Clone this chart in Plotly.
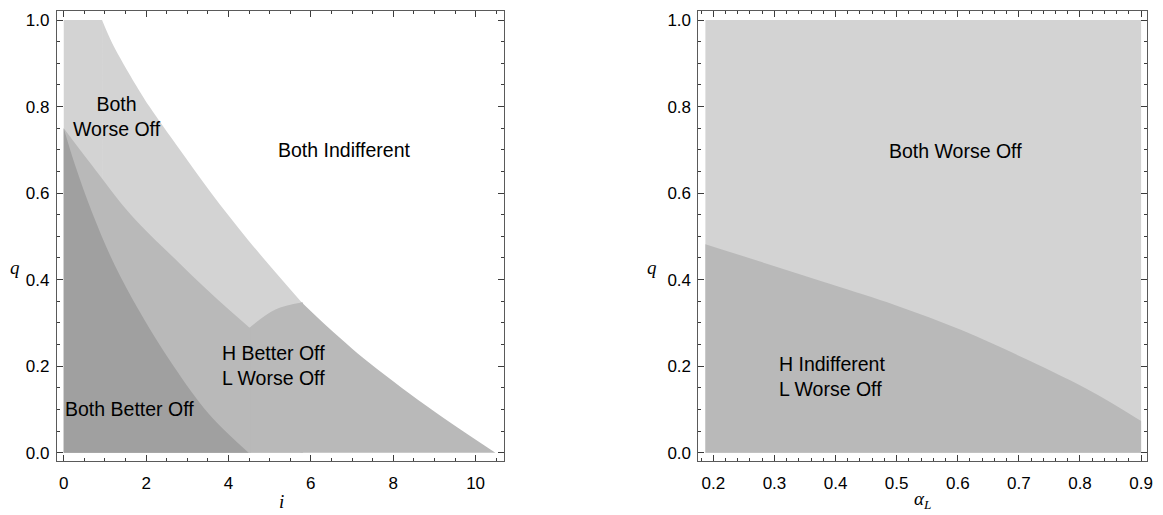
import plotly.graph_objects as go

# ---------------- data ----------------
# Left panel (x = i, y = q)
outer_i = [0.93, 1.18, 1.75, 2.08, 2.82, 3.58, 4.49, 5.78]
outer_q = [1.0, 0.946, 0.85, 0.8, 0.7, 0.6, 0.49, 0.347]
inner_i = [0.0, 0.67, 1.63, 2.84, 3.69, 4.51]
inner_q = [0.75, 0.666, 0.55, 0.435, 0.358, 0.289]
notch_i = [4.51, 5.14, 5.78]
notch_q = [0.289, 0.331, 0.347]
tail_i = [5.78, 6.43, 6.99, 7.6, 8.4, 9.25, 10.48]
tail_q = [0.347, 0.2885, 0.2415, 0.194, 0.1364, 0.0786, 0.0]
dark_i = [0.0, 0.27, 0.71, 1.23, 1.88, 2.64, 3.53, 4.49]
dark_q = [0.75, 0.666, 0.55, 0.435, 0.32, 0.204, 0.089, 0.0]
q_top = 1.0

# Right panel (x = alpha_L, y = q)
alpha_vals = [0.187, 0.389, 0.498, 0.607, 0.715, 0.824, 0.9]
bound_q = [0.482, 0.391, 0.341, 0.283, 0.214, 0.1375, 0.073]
alpha_min, alpha_max = 0.187, 0.9

left_ticks = [0, 2, 4, 6, 8, 10]
q_ticks = [0.0, 0.2, 0.4, 0.6, 0.8, 1.0]
right_ticks = [0.2, 0.3, 0.4, 0.5, 0.6, 0.7, 0.8, 0.9]

LIGHT = "rgb(211,211,211)"
MED = "rgb(185,185,185)"
DARK = "rgb(160,160,160)"
FONT = "Liberation Sans, Arial, sans-serif"

W, H = 1163, 515
OFF = 8  # page body margin of the html page


def fx(p):
    return (p - OFF) / W


def fy(p):
    return 1 - (p - OFF) / H


fig = go.Figure()


def area(xs, ys, color, shape="spline", fill="tozeroy", xa="x", ya="y"):
    fig.add_trace(go.Scatter(x=xs, y=ys, fill=fill, fillcolor=color, mode="lines",
                             line=dict(width=0, color=color, shape=shape, smoothing=1),
                             hoverinfo="skip", showlegend=False, xaxis=xa, yaxis=ya))


def seam(xv, ytop, color):
    fig.add_trace(go.Scatter(x=[xv, xv], y=[0.0, ytop], mode="lines",
                             line=dict(width=2.5, color=color), hoverinfo="skip",
                             showlegend=False))


# Both Worse Off (light): flat top part + area under the outer curve
area([0.0, outer_i[0], outer_i[0], 0.0], [0.0, 0.0, q_top, q_top], LIGHT, shape="linear", fill="toself")
area(outer_i, outer_q, LIGHT)
# H Better Off / L Worse Off (medium)
area(inner_i, inner_q, MED)
area(notch_i, notch_q, MED)
area(tail_i, tail_q, MED)
# cover the joins between the medium pieces
seam(notch_i[0], notch_q[0], MED)
seam(tail_i[0], tail_q[0], MED)
# Both Better Off (dark)
area(dark_i, dark_q, DARK)

# Right panel
area([alpha_min, alpha_max, alpha_max, alpha_min], [0, 0, q_top, q_top], LIGHT,
     shape="linear", fill="toself", xa="x2", ya="y2")
area(alpha_vals, bound_q, MED, xa="x2", ya="y2")

axis_common = dict(showline=True, linecolor="rgb(90,90,90)", linewidth=1, mirror="ticks",
                   ticks="inside", ticklen=6, tickcolor="rgb(60,60,60)", tickwidth=1,
                   showgrid=False, zeroline=False,
                   tickfont=dict(family=FONT, size=17, color="black"))
minor_common = dict(ticks="inside", ticklen=3, tickcolor="rgb(60,60,60)", showgrid=False)

yr = [-0.0196, 1.021]
ydom = [fy(462), fy(11)]
fig.update_layout(
    width=W, height=H, margin=dict(l=0, r=0, t=0, b=0),
    plot_bgcolor="white", paper_bgcolor="white",
    xaxis=dict(domain=[fx(57), fx(507)], range=[-0.17, 10.7], tickvals=left_ticks,
               minor=dict(dtick=0.5, **minor_common), anchor="y", ticklabelstandoff=6,
               **axis_common),
    yaxis=dict(domain=ydom, range=yr, tickvals=q_ticks, tickformat=".1f",
               minor=dict(dtick=0.05, **minor_common), anchor="x", ticklabelstandoff=3,
               **axis_common),
    xaxis2=dict(domain=[fx(702), fx(1153)], range=[0.1756, 0.9098], tickvals=right_ticks,
                tickformat=".1f", minor=dict(dtick=0.02, tick0=0, **minor_common), anchor="y2",
                ticklabelstandoff=6, **axis_common),
    yaxis2=dict(domain=ydom, range=yr, tickvals=q_ticks, tickformat=".1f",
                minor=dict(dtick=0.05, **minor_common), anchor="x2", ticklabelstandoff=3,
                **axis_common),
)

tf = dict(family=FONT, size=19.5, color="black")
ann = [
    dict(x=1.30, y=0.778, xref="x", yref="y", text="Both<br>Worse Off", align="center"),
    dict(x=6.81, y=0.70, xref="x", yref="y", text="Both Indifferent"),
    dict(x=5.10, y=0.202, xref="x", yref="y", text="H Better Off<br>L Worse Off", align="left"),
    dict(x=1.59, y=0.10, xref="x", yref="y", text="Both Better Off"),
    dict(x=0.5956, y=0.698, xref="x2", yref="y2", text="Both Worse Off"),
    dict(x=0.395, y=0.177, xref="x2", yref="y2", text="H Indifferent<br>L Worse Off", align="left"),
]
for a in ann:
    fig.add_annotation(showarrow=False, font=tf, xanchor="center", yanchor="middle", **a)

lab = dict(family="Liberation Serif, Times New Roman, serif", size=19, color="black")
fig.add_annotation(x=fx(15), y=fy(268), xref="paper", yref="paper", text="<i>q</i>",
                   showarrow=False, font=lab, xanchor="center", yanchor="middle")
fig.add_annotation(x=fx(655), y=fy(268), xref="paper", yref="paper", text="<i>q</i>",
                   showarrow=False, font=lab, xanchor="center", yanchor="middle")
fig.add_annotation(x=fx(283), y=fy(502), xref="paper", yref="paper", text="<i>i</i>",
                   showarrow=False, font=lab, xanchor="center", yanchor="middle")
fig.add_annotation(x=fx(927), y=fy(501), xref="paper", yref="paper",
                   text="<i>α</i><sub><i>L</i></sub>",
                   showarrow=False, font=lab, xanchor="center", yanchor="middle")

fig.write_html("out.html")
